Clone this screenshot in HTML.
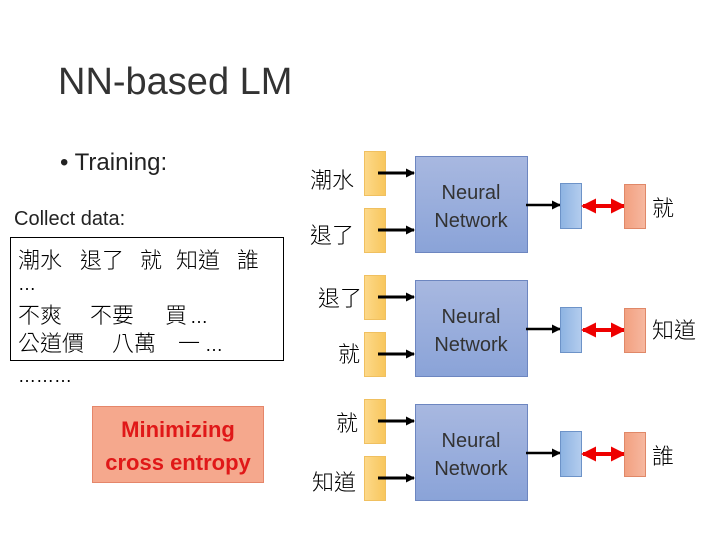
<!DOCTYPE html>
<html><head><meta charset="utf-8"><style>
body{margin:0;width:720px;height:540px;background:#fff;overflow:hidden}
svg{display:block}
.lat{font-family:"Liberation Sans","Noto Sans CJK TC",sans-serif}
.cjk{font-family:"Noto Sans CJK TC","WenQuanYi Zen Hei",sans-serif;font-weight:300}
</style></head><body>
<svg width="720" height="540" xmlns="http://www.w3.org/2000/svg">
<defs>
<linearGradient id="y" x1="0" x2="1"><stop offset="0" stop-color="#fdd98a"/><stop offset="1" stop-color="#f8c65c"/></linearGradient>
<linearGradient id="n" x1="0" y1="0" x2="0" y2="1"><stop offset="0" stop-color="#a8b8e0"/><stop offset="1" stop-color="#8aa3d8"/></linearGradient>
<linearGradient id="b" x1="0" x2="1"><stop offset="0" stop-color="#8db3e2"/><stop offset="1" stop-color="#b4cdee"/></linearGradient>
<linearGradient id="o" x1="0" x2="1"><stop offset="0" stop-color="#f2a080"/><stop offset="1" stop-color="#f6b8a0"/></linearGradient>
<marker id="ah" markerWidth="9" markerHeight="9" refX="8" refY="4.5" orient="auto" markerUnits="userSpaceOnUse"><path d="M0,0 L9,4.5 L0,9 z" fill="#000"/></marker>
<marker id="rh" markerWidth="15" markerHeight="15" refX="13" refY="7.5" orient="auto-start-reverse" markerUnits="userSpaceOnUse"><path d="M0,0 L15,7.5 L0,15 z" fill="#e00"/></marker>
</defs>
<text x="58" y="94" class="lat" font-size="38" fill="#333">NN-based LM</text>
<text x="60" y="170" class="lat" font-size="24" fill="#222">• Training:</text>
<text x="14" y="225" class="lat" font-size="20" fill="#222">Collect data:</text>
<rect x="10.5" y="237.5" width="273" height="123" fill="#fff" stroke="#000" stroke-width="1"/>
<g class="cjk" font-size="22" fill="#000">
<text x="18" y="268">潮水</text><text x="80" y="268">退了</text><text x="140" y="268">就</text><text x="176" y="268">知道</text><text x="237" y="268">誰</text>
<text x="18" y="290" class="lat" font-size="18">…</text>
<text x="18" y="323">不爽</text><text x="90" y="323">不要</text><text x="165" y="323">買</text><text x="190" y="323" class="lat" font-size="18">…</text>
<text x="18" y="351">公道價</text><text x="112" y="351">八萬</text><text x="178" y="351">一</text><text x="205" y="351" class="lat" font-size="18">…</text>
<text x="18" y="382" class="lat" font-size="18">………</text>
</g>
<rect x="92.5" y="406.5" width="171" height="76" fill="#f5a88d" stroke="#e5866a"/>
<text x="178" y="437" text-anchor="middle" class="lat" font-size="22" font-weight="bold" fill="#e01818">Minimizing</text>
<text x="178" y="470" text-anchor="middle" class="lat" font-size="22" font-weight="bold" fill="#e01818">cross entropy</text>
<g id="s">
<rect x="364.5" y="151.5" width="21" height="44" fill="url(#y)" stroke="#f0c060"/>
<rect x="364.5" y="208.5" width="21" height="44" fill="url(#y)" stroke="#f0c060"/>
<rect x="415.5" y="156.5" width="112" height="96" fill="url(#n)" stroke="#6d86c0"/>
<text x="471" y="199" text-anchor="middle" class="lat" font-size="20" fill="#333">Neural</text>
<text x="471" y="227" text-anchor="middle" class="lat" font-size="20" fill="#333">Network</text>
<line x1="378" y1="173" x2="414" y2="173" stroke="#000" stroke-width="3" marker-end="url(#ah)"/>
<line x1="378" y1="230" x2="414" y2="230" stroke="#000" stroke-width="3" marker-end="url(#ah)"/>
<line x1="526" y1="205" x2="560" y2="205" stroke="#000" stroke-width="2.5" marker-end="url(#ah)"/>
<rect x="560.5" y="183.5" width="21" height="45" fill="url(#b)" stroke="#6d93c8"/>
<line x1="583" y1="206" x2="624" y2="206" stroke="#e00" stroke-width="4" marker-start="url(#rh)" marker-end="url(#rh)"/>
<rect x="624.5" y="184.5" width="21" height="44" fill="url(#o)" stroke="#e08868"/>
</g>
<use href="#s" y="124"/>
<use href="#s" y="248"/>
<g class="cjk" font-size="22" fill="#000">
<text x="310" y="188">潮水</text>
<text x="310" y="243">退了</text>
<text x="652" y="216">就</text>
<text x="318" y="306">退了</text>
<text x="338" y="362">就</text>
<text x="652" y="338">知道</text>
<text x="336" y="431">就</text>
<text x="312" y="490">知道</text>
<text x="652" y="464">誰</text>
</g>
</svg>
</body></html>
